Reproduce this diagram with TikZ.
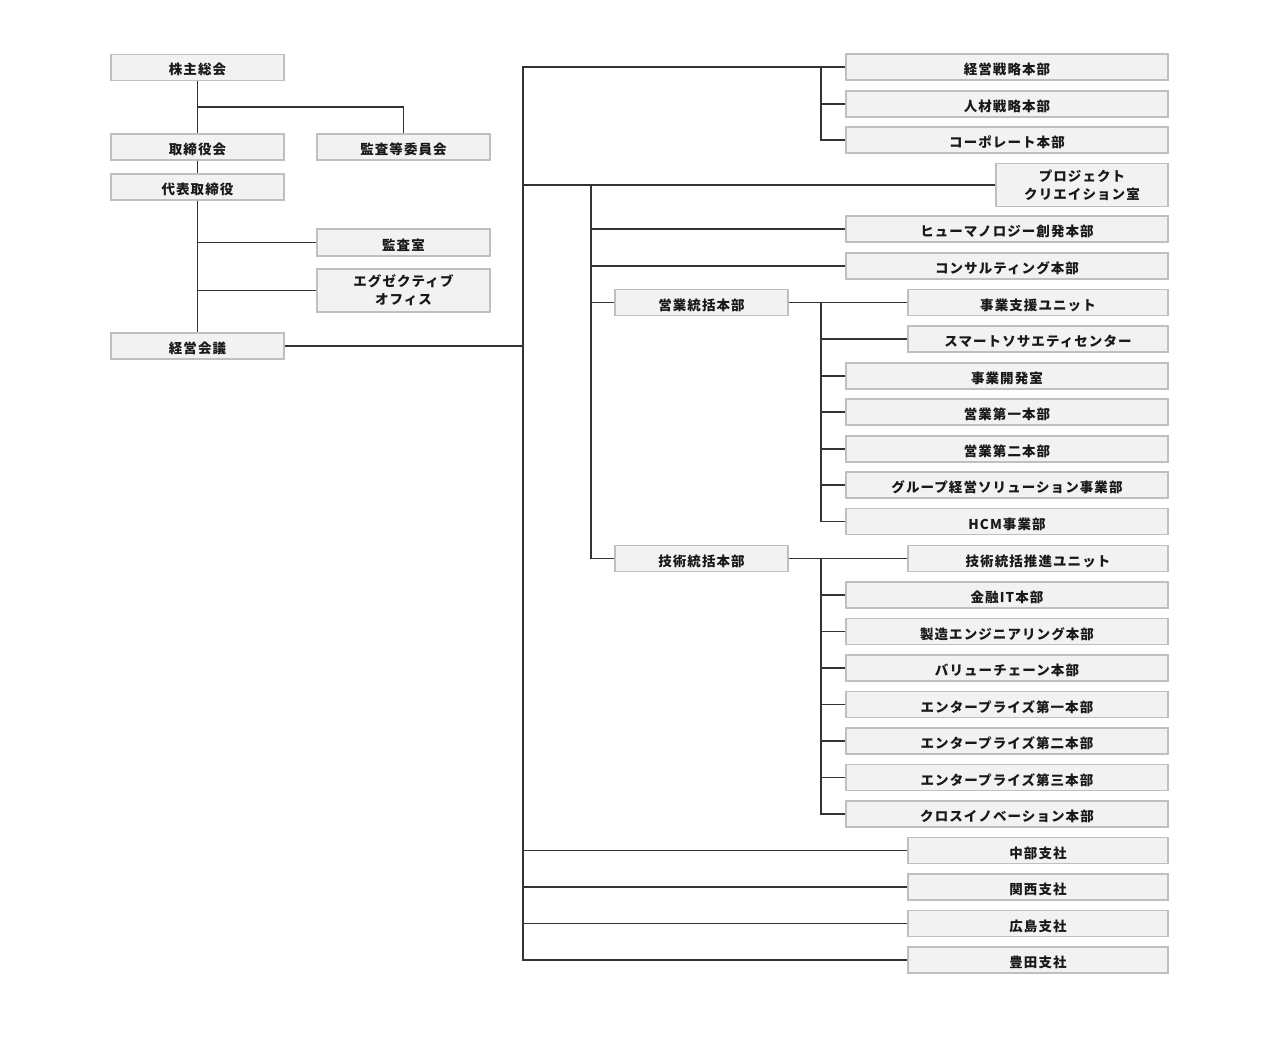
\documentclass[tikz,border=0pt]{standalone}
\usepackage{fontspec}
\setmainfont{Noto Sans CJK JP}[LetterSpace=8]
\begin{document}
\begin{tikzpicture}[x=1pt,y=-1pt,
  box/.style={draw=black!25,line width=1.2pt,fill=black!5,inner sep=0pt,align=center,
    font=\fontsize{13.5}{18}\selectfont\bfseries,text=black!90},
  one/.style={text height=16.5pt,text depth=1.5pt},
  wl/.style={box,one,minimum width=173pt,minimum height=26pt},
  wa/.style={box,one,minimum width=322pt,minimum height=26pt},
  wb/.style={box,one,minimum width=260pt,minimum height=26pt},
  conn/.style={draw=black!80,line width=1.3pt}]
\useasboundingbox (0,0) rectangle (1280,1054);
% left column
\node[wl] (kabu) at (197.5,67.5) {株主総会};
\node[wl] (tori) at (197.5,147) {取締役会};
\node[wl] (daihyo) at (197.5,187) {代表取締役};
\node[wl] (keiei) at (197.5,346) {経営会議};
\node[wl] (kansatou) at (403.5,147) {監査等委員会};
\node[wl,minimum height=27pt] (kansashitsu) at (403.5,242.5) {監査室};
\node[box,minimum width=173pt,minimum height=43pt] (exec) at (403.5,290.5) {エグゼクティブ\\オフィス};
% right column
\node[wa] (senryaku) at (1007,67) {経営戦略本部};
\node[wa] (jinzai) at (1007,104) {人材戦略本部};
\node[wa] (corp) at (1007,140) {コーポレート本部};
\node[box,minimum width=172pt,minimum height=43pt] (proj) at (1082,185) {プロジェクト\\クリエイション室};
\node[wa] (human) at (1007,229) {ヒューマノロジー創発本部};
\node[wa] (consul) at (1007,266) {コンサルティング本部};
\node[wl] (eigyo) at (701.5,302.5) {営業統括本部};
\node[wb] (shien) at (1038,302.5) {事業支援ユニット};
\node[wb] (smart) at (1038,339) {スマートソサエティセンター};
\node[wa] (kaihatsu) at (1007,376) {事業開発室};
\node[wa] (ei1) at (1007,412) {営業第一本部};
\node[wa] (ei2) at (1007,449) {営業第二本部};
\node[wa] (group) at (1007,485) {グループ経営ソリューション事業部};
\node[wa] (hcm) at (1007,521.5) {HCM事業部};
\node[wl] (gijutsu) at (701.5,558.5) {技術統括本部};
\node[wb] (suishin) at (1038,558.5) {技術統括推進ユニット};
\node[wa] (kinyu) at (1007,595) {金融IT本部};
\node[wa] (seizo) at (1007,631.5) {製造エンジニアリング本部};
\node[wa] (value) at (1007,668) {バリューチェーン本部};
\node[wa] (ent1) at (1007,704.5) {エンタープライズ第一本部};
\node[wa] (ent2) at (1007,741) {エンタープライズ第二本部};
\node[wa] (ent3) at (1007,777.5) {エンタープライズ第三本部};
\node[wa] (cross) at (1007,814) {クロスイノベーション本部};
\node[wb] (chubu) at (1038,850.5) {中部支社};
\node[wb] (kansai) at (1038,887) {関西支社};
\node[wb] (hiroshima) at (1038,923.5) {広島支社};
\node[wb] (toyota) at (1038,960) {豊田支社};
% junction coordinates
\coordinate (J) at (197.5,107);
\coordinate (T) at (523,0);
\coordinate (S) at (821,0);
\coordinate (U) at (591,0);
% left connectors
\draw[conn] (kabu.south) -- (tori.north);
\draw[conn] (J) -| (kansatou.north);
\draw[conn] (tori.south) -- (daihyo.north);
\draw[conn] (daihyo.south) -- (keiei.north);
\draw[conn] (kansashitsu.west) -- (kansashitsu.west -| daihyo.south);
\draw[conn] (exec.west) -- (exec.west -| daihyo.south);
\draw[conn] (keiei.east) -- (keiei.east -| T);
% trunk
\draw[conn] (senryaku.west) -- (senryaku.west -| T) -- (toyota.west -| T) -- (toyota.west);
\foreach \n in {chubu,kansai,hiroshima,proj} \draw[conn] (\n.west) -- (\n.west -| T);
% top group
\draw[conn] (senryaku.west -| S) |- (corp.west);
\draw[conn] (jinzai.west) -- (jinzai.west -| S);
% second group
\draw[conn] (proj.west -| U) |- (gijutsu.west);
\foreach \n in {human,consul,eigyo} \draw[conn] (\n.west) -- (\n.west -| U);
% eigyo
\draw[conn] (eigyo.east) -- (shien.west);
\draw[conn] (eigyo.east -| S) |- (hcm.west);
\foreach \n in {smart,kaihatsu,ei1,ei2,group} \draw[conn] (\n.west) -- (\n.west -| S);
% gijutsu
\draw[conn] (gijutsu.east) -- (suishin.west);
\draw[conn] (gijutsu.east -| S) |- (cross.west);
\foreach \n in {kinyu,seizo,value,ent1,ent2,ent3} \draw[conn] (\n.west) -- (\n.west -| S);
\end{tikzpicture}
\end{document}
